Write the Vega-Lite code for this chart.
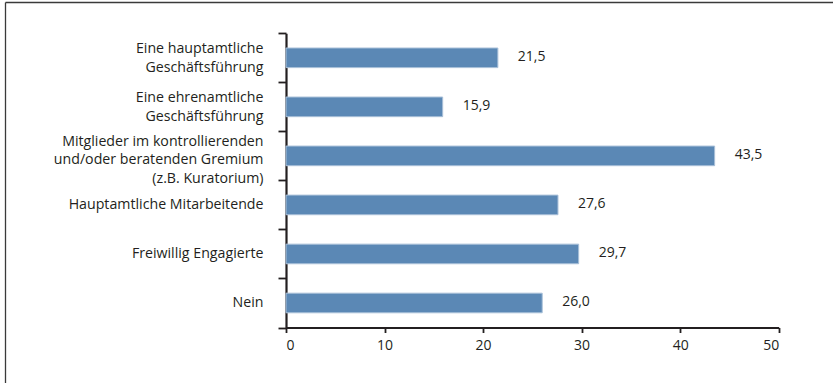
{
  "$schema": "https://vega.github.io/schema/vega-lite/v6.json",
  "width": 828,
  "height": 381,
  "autosize": {"type": "none"},
  "padding": {"left": 5, "top": 2, "right": 0, "bottom": 0},
  "background": "white",
  "config": {
    "locale": {"number": {"decimal": ",", "thousands": ".", "grouping": [3], "currency": ["", " €"]}},
    "view": {"stroke": null},
    "font": "Open Sans"
  },
  "data": {
    "values": [
      {"kategorie": "Eine hauptamtliche|Geschäftsführung", "anteil": 21.5},
      {"kategorie": "Eine ehrenamtliche|Geschäftsführung", "anteil": 15.9},
      {"kategorie": "Mitglieder im kontrollierenden|und/oder beratenden Gremium|(z.B. Kuratorium)", "anteil": 43.5},
      {"kategorie": "Hauptamtliche Mitarbeitende", "anteil": 27.6},
      {"kategorie": "Freiwillig Engagierte", "anteil": 29.7},
      {"kategorie": "Nein", "anteil": 26.0}
    ]
  },
  "layer": [
    {
      "encoding": {
        "y": {
          "field": "kategorie",
          "type": "nominal",
          "sort": null,
          "title": null,
          "scale": {"range": [31.3, 325.5], "paddingInner": 0, "paddingOuter": 0},
          "axis": {
            "orient": "left",
            "offset": -281,
            "labelExpr": "isString(datum.value) ? split(datum.value, '|') : ''",
            "labelOffset": {
              "condition": [
                {"test": "isString(datum.value) && length(split(datum.value, '|')) == 3", "value": -14.5},
                {"test": "isString(datum.value) && length(split(datum.value, '|')) == 2", "value": -9}
              ],
              "value": 0
            },
            "labelLineHeight": 18.5,
            "labelFontSize": 14.2,
            "labelColor": "#231f20",
            "labelPadding": 15,
            "labelLimit": 300,
            "tickBand": "extent",
            "tickSize": 8,
            "tickWidth": 1.8,
            "tickColor": "#231f20",
            "domainColor": "#231f20",
            "domainWidth": 2.2,
            "grid": false
          }
        },
        "x": {
          "field": "anteil",
          "type": "quantitative",
          "title": null,
          "scale": {"domain": [0, 50], "nice": false, "range": [281, 773.7]},
          "axis": {
            "orient": "bottom",
            "offset": -55.5,
            "values": [0, 10, 20, 30, 40, 50],
            "format": "d",
            "labelFontSize": 14,
            "labelColor": "#231f20",
            "labelPadding": 6,
            "tickSize": 5,
            "tickWidth": 1.8,
            "tickColor": "#231f20",
            "domainColor": "#231f20",
            "domainWidth": 2.2,
            "grid": false
          }
        }
      },
      "layer": [
        {
          "mark": {"type": "bar", "height": {"band": 0.4}, "color": "#5b88b5", "stroke": "#a8bfd8", "strokeWidth": 1}
        },
        {
          "mark": {"type": "text", "align": "left", "baseline": "middle", "dx": 20, "dy": -1, "fontSize": 14, "color": "#231f20"},
          "encoding": {
            "text": {"field": "anteil", "type": "quantitative", "format": ".1f"}
          }
        }
      ]
    },
    {
      "mark": {"type": "point", "opacity": 0},
      "encoding": {
        "y": {
          "field": "kategorie",
          "type": "nominal",
          "sort": null,
          "title": null,
          "scale": {"range": [0, 381]},
          "axis": null
        },
        "x": {
          "field": "anteil",
          "type": "quantitative",
          "title": null,
          "scale": {"domain": [0, 50], "nice": false, "range": [0, 828]},
          "axis": {
            "orient": "top",
            "values": [0],
            "labels": false,
            "ticks": false,
            "domain": true,
            "domainColor": "#3a3a3a",
            "domainWidth": 1.3,
            "grid": true,
            "gridColor": "#3a3a3a",
            "gridWidth": 1.3,
            "gridOpacity": 1
          }
        }
      }
    }
  ],
  "resolve": {
    "scale": {"x": "independent", "y": "independent"},
    "axis": {"x": "independent", "y": "independent"}
  }
}
